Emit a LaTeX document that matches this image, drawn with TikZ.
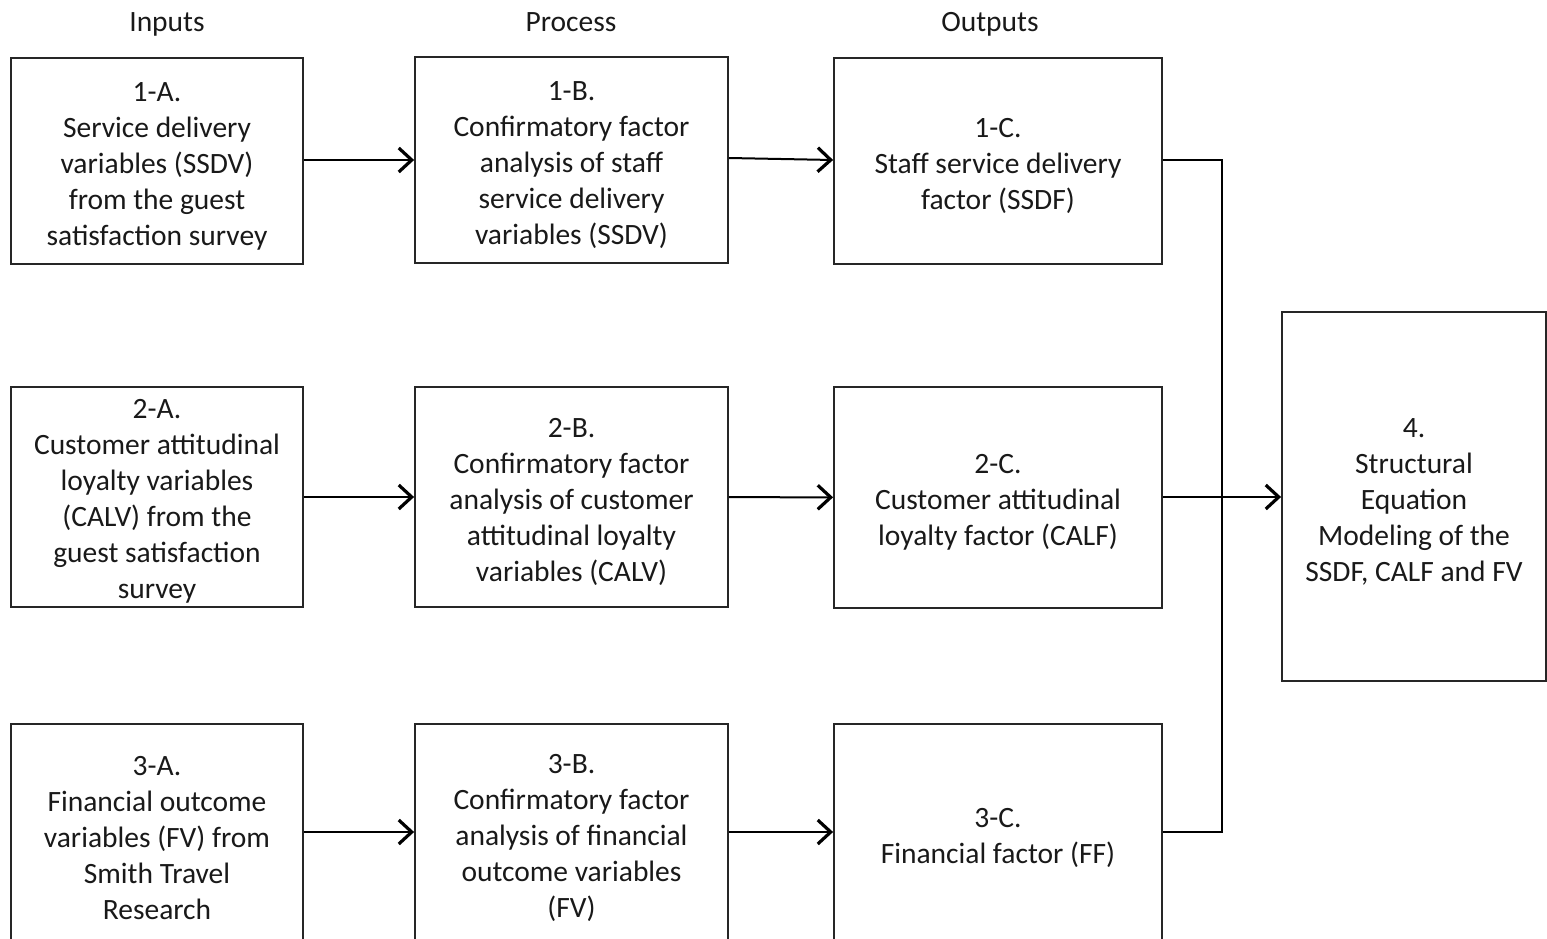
\documentclass[tikz,border=0pt]{standalone}
\usepackage{fontspec}
\setmainfont{Carlito}
\usetikzlibrary{arrows.meta}
\begin{document}
\begin{tikzpicture}[x=1pt,y=-1pt,
  box/.style={draw=black!85, line width=1.8pt, inner sep=0pt},
  txt/.style={inner sep=0pt, align=center,
    font=\fontsize{29.5}{36}\selectfont, text=black!90},
  hdr/.style={font=\fontsize{29.5}{36}\selectfont, text=black!90, inner sep=0pt, anchor=base},
  link/.style={draw=black, line width=2pt},
  arr/.style={link, -{Straight Barb[length=13pt,width=24pt,line width=3.2pt]}}]
\useasboundingbox (0,0) rectangle (1547,939);
\clip (0,0) rectangle (1547,939);
% headers
\node[hdr] (hin) at (167,31.5) {Inputs};
\node[hdr] (hpr) at (571,31.5) {Process};
\node[hdr] (hout) at (990,31.5) {Outputs};
% row 1
\node[box, minimum width=292pt, minimum height=206pt] (a1) at (157,161) {};
\node[txt] (ta1) at ([yshift=-5pt]a1.center)
  {1-A.\\Service delivery\\variables (SSDV)\\from the guest\\satisfaction survey};
\node[box, minimum width=313pt, minimum height=206pt] (b1) at (571.5,160) {};
\node[txt] (tb1) at ([yshift=-5pt]b1.center)
  {1-B.\\Confirmatory factor\\analysis of staff\\service delivery\\variables (SSDV)};
\node[box, minimum width=328pt, minimum height=206pt] (c1) at (998,161) {};
\node[txt] (tc1) at ([yshift=-5pt]c1.center)
  {1-C.\\Staff service delivery\\factor (SSDF)};
% row 2
\node[box, minimum width=292pt, minimum height=220pt] (a2) at (157,497) {};
\node[txt] (ta2) at ([yshift=-4pt]a2.center)
  {2-A.\\Customer attitudinal\\loyalty variables\\(CALV) from the\\guest satisfaction\\survey};
\node[box, minimum width=313pt, minimum height=220pt] (b2) at (571.5,497) {};
\node[txt] (tb2) at ([yshift=-5pt]b2.center)
  {2-B.\\Confirmatory factor\\analysis of customer\\attitudinal loyalty\\variables (CALV)};
\node[box, minimum width=328pt, minimum height=221pt] (c2) at (998,497.5) {};
\node[txt] (tc2) at ([yshift=-5pt]c2.center)
  {2-C.\\Customer attitudinal\\loyalty factor (CALF)};
% row 3
\node[box, minimum width=292pt, minimum height=220pt] (a3) at (157,834) {};
\node[txt] (ta3) at ([yshift=-4pt]a3.center)
  {3-A.\\Financial outcome\\variables (FV) from\\Smith Travel\\Research};
\node[box, minimum width=313pt, minimum height=220pt] (b3) at (571.5,834) {};
\node[txt] (tb3) at ([yshift=-4pt]b3.center)
  {3-B.\\Confirmatory factor\\analysis of financial\\outcome variables\\(FV)};
\node[box, minimum width=328pt, minimum height=220pt] (c3) at (998,834) {};
\node[txt] (tc3) at ([yshift=-4pt]c3.center)
  {3-C.\\Financial factor (FF)};
% box 4
\node[box, minimum width=264pt, minimum height=369pt] (d4) at (1414,496.5) {};
\node[txt] (td4) at ([yshift=-5pt]d4.center)
  {4.\\Structural\\Equation\\Modeling of the\\SSDF, CALF and FV};
% connectors
\draw[arr] (a1.east |- 0,160) -- (b1.west |- 0,160);
\draw[arr] (b1.east |- 0,158) -- (c1.west |- 0,160);
\draw[arr] (a2) -- (b2);
\draw[arr] (b2) -- (c2);
\draw[arr] (a3.east |- 0,832) -- (b3.west |- 0,832);
\draw[arr] (b3.east |- 0,832) -- (c3.west |- 0,832);
\coordinate (j) at (1222,497);
\draw[link] (c1.east |- 0,160) -| (j) |- (c3.east |- 0,832);
\draw[arr] (c2.east |- j) -- (d4.west |- j);
\end{tikzpicture}
\end{document}
